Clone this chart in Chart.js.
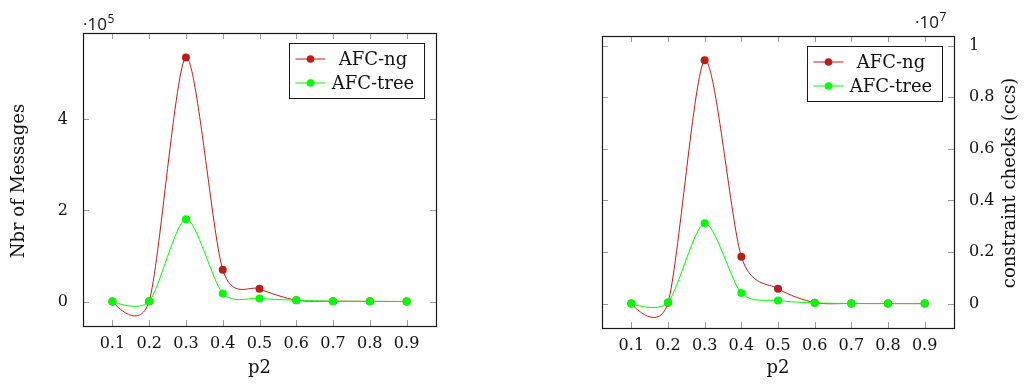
<!DOCTYPE html>
<html><head><meta charset="utf-8">
<script src="https://cdn.jsdelivr.net/npm/chart.js@4.4.1/dist/chart.umd.min.js"></script>
<style>
html,body{margin:0;padding:0;background:#fff;width:1025px;height:385px;overflow:hidden}
.box{position:absolute;top:0;height:385px}
#w1{left:0;width:450px}
#w2{left:560px;width:465px}
</style></head><body>
<div class="box" id="w1"><canvas id="c1" width="450" height="385"></canvas></div>
<div class="box" id="w2"><canvas id="c2" width="465" height="385"></canvas></div>
<script>
// ---- data ----
const pValues = [0.1, 0.2, 0.3, 0.4, 0.5, 0.6, 0.7, 0.8, 0.9];
const xTickLabels = ['0.1', '0.2', '0.3', '0.4', '0.5', '0.6', '0.7', '0.8', '0.9'];
const seriesNames = ['AFC-ng', 'AFC-tree'];
// Nbr of Messages
const msgNg   = [200, 1000, 536000, 70000, 28000, 3000, 1000, 500, 200];
const msgTree = [100, 500, 181000, 18000, 7000, 3000, 800, 400, 200];
const msgYTicks = [0, 200000, 400000];
const msgYLabels = ['0', '2', '4'];
// constraint checks
const ccsNg   = [3000, 40000, 9430000, 1820000, 580000, 40000, 8000, 4000, 2000];
const ccsTree = [2000, 50000, 3120000, 410000, 120000, 30000, 5000, 3000, 2000];
const ccsYTicks = [0, 2000000, 4000000, 6000000, 8000000, 10000000];
const ccsYLabels = ['0', '0.2', '0.4', '0.6', '0.8', '1'];

const RED = 'rgb(185,30,24)';
const GREEN = 'rgb(0,255,0)';
const SERIF = '"DejaVu Serif", "Liberation Serif", serif';
const SANS = '"Open Sans", Lato, "DejaVu Sans", sans-serif';

// pgfplots-like "smooth" control points
const pgfSmooth = {
  id: 'pgfSmooth',
  beforeDatasetDraw(chart, args) {
    const meta = args.meta;
    meta.dataset.updateControlPoints(chart.chartArea, 'x');
    const pts = meta.data, k = 0.135, n = pts.length;
    for (let i = 0; i < n; i++) {
      const p = pts[i];
      const prev = pts[i - 1] || p, next = pts[i + 1] || p;
      const dx = next.x - prev.x, dy = next.y - prev.y;
      if (i === 0 || i === n - 1) { p.cp1x = p.x; p.cp1y = p.y; p.cp2x = p.x; p.cp2y = p.y; continue; }
      p.cp1x = p.x - k * dx; p.cp1y = p.y - k * dy;
      p.cp2x = p.x + k * dx; p.cp2y = p.y + k * dy;
    }
  }
};

const deco = {
  id: 'deco',
  beforeDatasetsDraw(chart, args, o) {
    const {ctx, chartArea: a, scales} = chart;
    ctx.save();
    ctx.strokeStyle = '#9a9a9a'; ctx.lineWidth = 1;
    ctx.beginPath();
    pValues.forEach(v => {
      const px = Math.round(scales.x.getPixelForValue(v)) + 0.5;
      ctx.moveTo(px, a.bottom); ctx.lineTo(px, a.bottom - 6);
      ctx.moveTo(px, a.top); ctx.lineTo(px, a.top + 6);
    });
    o.yTicks.forEach(v => {
      const py = Math.round(scales.y.getPixelForValue(v)) + 0.5;
      ctx.moveTo(a.left, py); ctx.lineTo(a.left + 6, py);
      ctx.moveTo(a.right, py); ctx.lineTo(a.right - 6, py);
    });
    ctx.stroke();
    ctx.strokeStyle = '#1a1a1a'; ctx.lineWidth = 1.2;
    ctx.strokeRect(Math.round(a.left) + 0.5, Math.round(a.top) + 0.5,
                   Math.round(a.right - a.left), Math.round(a.bottom - a.top));
    ctx.restore();
  },
  afterDraw(chart, args, o) {
    const {ctx, chartArea: a} = chart;
    ctx.save();
    // legend
    const bx = Math.round(a.right - 147) + 0.5, by = Math.round(a.top + 9.5) + 0.5;
    ctx.fillStyle = '#fff';
    ctx.fillRect(bx, by, 135, 55);
    ctx.strokeStyle = '#1a1a1a'; ctx.lineWidth = 1;
    ctx.strokeRect(bx, by, 135, 55);
    const colors = [RED, GREEN];
    seriesNames.forEach((name, i) => {
      const ry = by + 15.5 + i * 24;
      ctx.strokeStyle = colors[i]; ctx.lineWidth = 1;
      ctx.beginPath(); ctx.moveTo(bx + 6, ry); ctx.lineTo(bx + 36, ry); ctx.stroke();
      ctx.fillStyle = colors[i];
      ctx.beginPath(); ctx.arc(bx + 21, ry, 3.8, 0, Math.PI * 2); ctx.fill();
      ctx.fillStyle = '#111';
      ctx.font = '18px ' + SERIF;
      ctx.textAlign = 'center'; ctx.textBaseline = 'alphabetic';
      ctx.fillText(name, bx + 83.5, ry + 5.5);
    });
    // axis titles
    ctx.fillStyle = '#111';
    ctx.font = '18px ' + SERIF;
    ctx.textAlign = 'center'; ctx.textBaseline = 'alphabetic';
    ctx.fillText('p2', (a.left + a.right) / 2, 373);
    ctx.save();
    ctx.translate(o.yLabelX, o.yLabelY);
    ctx.rotate(-Math.PI / 2);
    ctx.textBaseline = 'middle';
    ctx.fillText(o.yLabel, 0, 0);
    ctx.restore();
    // exponent
    ctx.textAlign = 'left'; ctx.textBaseline = 'alphabetic';
    ctx.font = '17px ' + SANS;
    ctx.fillText('\u00b710', o.expX, o.expY);
    const w = ctx.measureText('\u00b710').width;
    ctx.font = '12px ' + SANS;
    ctx.fillText(o.expSup, o.expX + w + 0.5, o.expY - 7);
    ctx.restore();
  }
};

function makeChart(id, ng, tree, yMin, yMax, yTicks, yLabels, yPos, pad, yWidth, xHeight, decoOpts) {
  const toPts = arr => pValues.map((p, i) => ({x: p, y: arr[i]}));
  return new Chart(document.getElementById(id), {
    type: 'line',
    data: {
      datasets: [
        {label: seriesNames[0], data: toPts(ng), borderColor: RED, backgroundColor: RED,
         borderWidth: 1, pointRadius: 4, pointBorderWidth: 0, pointBackgroundColor: RED,
         tension: 0.4, order: 1, fill: false},
        {label: seriesNames[1], data: toPts(tree), borderColor: GREEN, backgroundColor: GREEN,
         borderWidth: 1, pointRadius: 4, pointBorderWidth: 0, pointBackgroundColor: GREEN,
         tension: 0.4, order: 0, fill: false}
      ]
    },
    options: {
      responsive: false, animation: false, devicePixelRatio: 1,
      layout: {padding: pad},
      plugins: {legend: {display: false}, tooltip: {enabled: false}, deco: decoOpts},
      scales: {
        x: {
          type: 'linear', position: 'bottom', min: 0.02, max: 0.98,
          grid: {display: false}, border: {display: false},
          afterBuildTicks: s => { s.ticks = pValues.map(v => ({value: v})); },
          afterFit: s => { s.height = xHeight; },
          ticks: {callback: (v) => xTickLabels[pValues.findIndex(p => Math.abs(p - v) < 1e-9)],
                  font: {family: SERIF, size: 16}, color: '#111', padding: 0, maxRotation: 0, autoSkip: false}
        },
        y: {
          type: 'linear', position: yPos, min: yMin, max: yMax,
          grid: {display: false}, border: {display: false},
          afterBuildTicks: s => { s.ticks = yTicks.map(v => ({value: v})); },
          afterFit: s => { s.width = yWidth; },
          ticks: {callback: (v) => yLabels[yTicks.indexOf(v)],
                  font: {family: SERIF, size: 16}, color: '#111', padding: 7, autoSkip: false}
        }
      }
    },
    plugins: [pgfSmooth, deco]
  });
}

makeChart('c1', msgNg, msgTree, -53600, 589600, msgYTicks, msgYLabels, 'left',
  {left: 0, top: 33, right: 14, bottom: 0}, 83, 59,
  {yTicks: msgYTicks, yLabel: 'Nbr of Messages', yLabelX: 19, yLabelY: 181,
   expSup: '5', expX: 83, expY: 30});

makeChart('c2', ccsNg, ccsTree, -943000, 10373000, ccsYTicks, ccsYLabels, 'right',
  {left: 42, top: 36, right: 0, bottom: 0}, 71, 57,
  {yTicks: ccsYTicks, yLabel: 'constraint checks (ccs)', yLabelX: 450, yLabelY: 183,
   expSup: '7', expX: 355, expY: 28});
</script>
</body></html>
